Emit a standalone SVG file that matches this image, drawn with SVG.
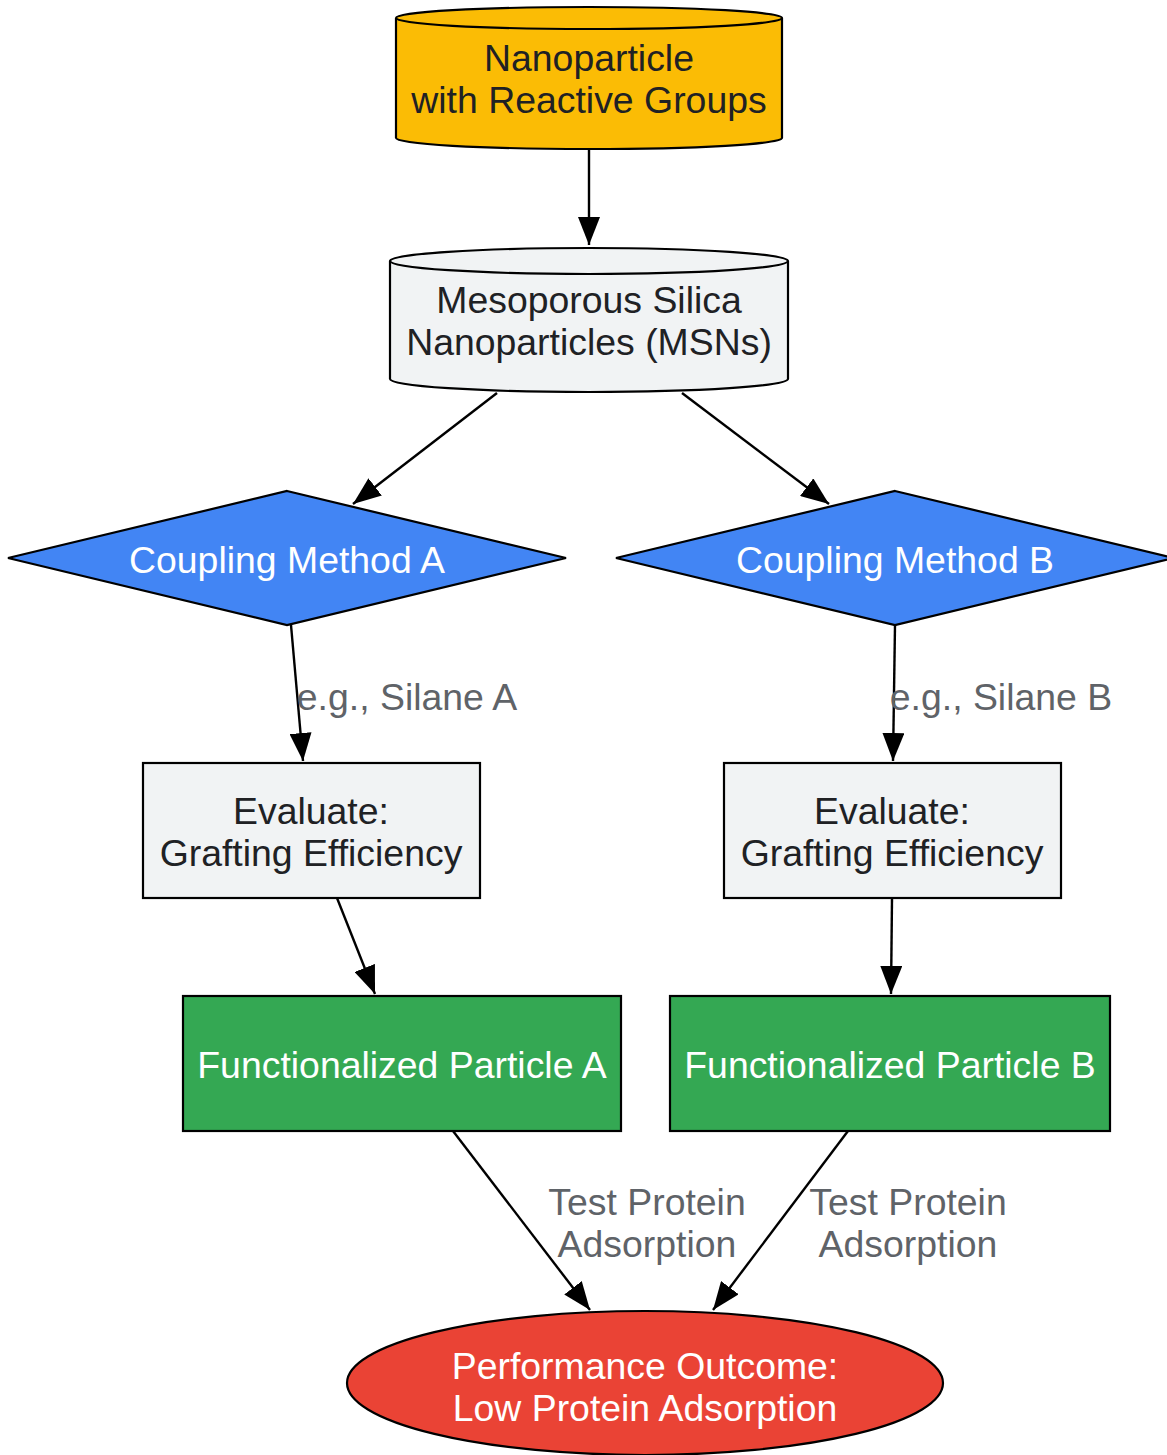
<svg xmlns="http://www.w3.org/2000/svg" width="1167" height="1455" viewBox="0 0 1167 1455">
<style>
text{font-family:"Liberation Sans",Arial,sans-serif;font-size:37.4px;text-anchor:middle}
.dark{fill:#202124}
.white{fill:#ffffff}
.lbl{fill:#5f6368}
.shape{stroke:#000;stroke-width:2.2}
.edge{stroke:#000;stroke-width:2.4;fill:none}
</style>
<defs>
<marker id="ah" viewBox="0 0 28 22" refX="28" refY="11" markerWidth="28" markerHeight="22" markerUnits="userSpaceOnUse" orient="auto">
<path d="M0,0 L28,11 L0,22 Z" fill="#000"/>
</marker>
</defs>
<rect width="1167" height="1455" fill="#fff"/>
<g id="connectors">
<line class="edge" x1="589" y1="149" x2="589" y2="245" marker-end="url(#ah)"/>
<line class="edge" x1="497" y1="393" x2="353" y2="504" marker-end="url(#ah)"/>
<line class="edge" x1="682" y1="393" x2="829" y2="504" marker-end="url(#ah)"/>
<line class="edge" x1="291" y1="625" x2="303" y2="761" marker-end="url(#ah)"/>
<line class="edge" x1="895" y1="625" x2="893" y2="761" marker-end="url(#ah)"/>
<line class="edge" x1="337" y1="898" x2="375" y2="994" marker-end="url(#ah)"/>
<line class="edge" x1="892" y1="898" x2="891" y2="994" marker-end="url(#ah)"/>
<line class="edge" x1="453" y1="1131" x2="590" y2="1310" marker-end="url(#ah)"/>
<line class="edge" x1="848" y1="1131" x2="713" y2="1310" marker-end="url(#ah)"/>
<text class="lbl" x="407" y="710">e.g., Silane A</text>
<text class="lbl" x="1001" y="710">e.g., Silane B</text>
<text class="lbl" x="647" y="1215">Test Protein</text>
<text class="lbl" x="647" y="1257">Adsorption</text>
<text class="lbl" x="908" y="1215">Test Protein</text>
<text class="lbl" x="908" y="1257">Adsorption</text>
</g>
<g id="n-nanoparticle">
<path class="shape" fill="#FBBC05" d="M396,18 A193,11 0 0 1 782,18 L782,138 A193,11 0 0 1 396,138 Z"/>
<path class="shape" fill="none" d="M396,18 A193,11 0 0 0 782,18"/>
<text class="dark" x="589" y="71">Nanoparticle</text>
<text class="dark" x="589" y="113">with Reactive Groups</text>
</g>
<g id="n-msn">
<path class="shape" fill="#F1F3F4" d="M390,261 A199,13 0 0 1 788,261 L788,379 A199,13 0 0 1 390,379 Z"/>
<path class="shape" fill="none" d="M390,261 A199,13 0 0 0 788,261"/>
<text class="dark" x="589" y="313">Mesoporous Silica</text>
<text class="dark" x="589" y="355">Nanoparticles (MSNs)</text>
</g>
<g id="n-coupling-a">
<polygon class="shape" fill="#4285F4" points="287,491 566,558 287,625 8,558"/>
<text class="white" x="287" y="573">Coupling Method A</text>
</g>
<g id="n-coupling-b">
<polygon class="shape" fill="#4285F4" points="895,491 1174,558 895,625 616,558"/>
<text class="white" x="895" y="573">Coupling Method B</text>
</g>
<g id="n-eval-a">
<rect class="shape" fill="#F1F3F4" x="143" y="763" width="337" height="135"/>
<text class="dark" x="311" y="824">Evaluate:</text>
<text class="dark" x="311" y="866">Grafting Efficiency</text>
</g>
<g id="n-eval-b">
<rect class="shape" fill="#F1F3F4" x="724" y="763" width="337" height="135"/>
<text class="dark" x="892" y="824">Evaluate:</text>
<text class="dark" x="892" y="866">Grafting Efficiency</text>
</g>
<g id="n-func-a">
<rect class="shape" fill="#34A853" x="183" y="996" width="438" height="135"/>
<text class="white" x="402" y="1078">Functionalized Particle A</text>
</g>
<g id="n-func-b">
<rect class="shape" fill="#34A853" x="670" y="996" width="440" height="135"/>
<text class="white" x="890" y="1078">Functionalized Particle B</text>
</g>
<g id="n-outcome">
<ellipse class="shape" fill="#EA4335" cx="645" cy="1383" rx="298" ry="72"/>
<text class="white" x="645" y="1379">Performance Outcome:</text>
<text class="white" x="645" y="1421">Low Protein Adsorption</text>
</g>
</svg>
